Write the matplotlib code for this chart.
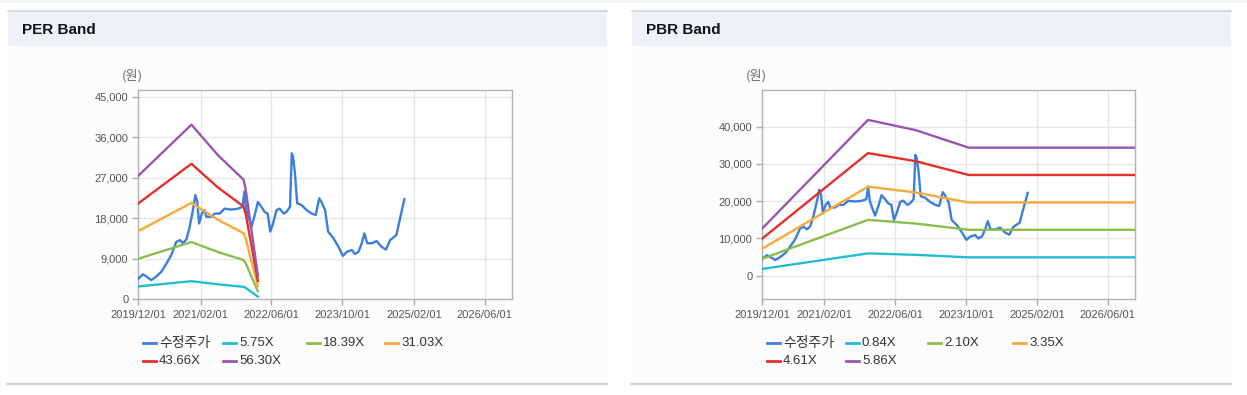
import matplotlib
matplotlib.use("Agg")
import matplotlib.pyplot as plt
import matplotlib.dates as mdates
from matplotlib.patches import Rectangle
from matplotlib.lines import Line2D
from matplotlib.ticker import FuncFormatter
import pandas as pd

# canvas size in pixels (dpi 100)
W, H = 1247, 395

# adjusted close (수정주가)
price_dates = [
    "2019-12-01", "2020-01-04", "2020-01-28", "2020-03-01", "2020-04-04", "2020-05-10",
    "2020-06-13", "2020-07-16", "2020-08-19", "2020-09-13", "2020-10-04", "2020-10-28",
    "2020-11-19", "2020-12-13", "2020-12-28", "2021-01-10", "2021-01-22", "2021-02-10",
    "2021-02-28", "2021-03-13", "2021-04-16", "2021-05-10", "2021-06-13", "2021-07-16",
    "2021-09-01", "2021-10-16", "2021-11-16", "2021-11-28", "2021-12-10", "2021-12-25",
    "2022-01-16", "2022-02-10", "2022-03-01", "2022-03-25", "2022-04-16", "2022-05-07",
    "2022-05-25", "2022-06-13", "2022-07-07", "2022-07-28", "2022-08-25", "2022-09-13",
    "2022-10-07", "2022-10-19", "2022-10-28", "2022-11-10", "2022-11-25", "2022-12-25",
    "2023-01-28", "2023-03-04", "2023-04-01", "2023-04-25", "2023-05-10", "2023-06-04",
    "2023-06-25", "2023-08-01", "2023-09-04", "2023-10-04", "2023-11-01", "2023-12-04",
    "2023-12-25", "2024-01-19", "2024-02-10", "2024-02-28", "2024-03-19", "2024-04-19",
    "2024-05-22", "2024-06-25", "2024-07-25", "2024-08-22", "2024-10-04", "2024-11-01",
    "2024-11-28",
]
price = [
    4450, 5500, 5000, 4200, 5000, 6100,
    7900, 9800, 12700, 13100, 12400, 13300,
    16100, 20100, 23100, 21600, 16800, 19000,
    19800, 18300, 18300, 19000, 19000, 20100,
    19900, 20100, 20500, 23900, 20100, 18300,
    16100, 19000, 21600, 20500, 19400, 19000,
    15000, 16800, 19800, 20100, 19000, 19400,
    20500, 32400, 31600, 27900, 21300, 20900,
    19800, 19000, 18700, 22400, 21600, 19800,
    15000, 13500, 11600, 9600, 10500, 10900,
    10000, 10500, 12400, 14600, 12400, 12400,
    12900, 11600, 11000, 13100, 14200, 18300,
    22200,
]

# EPS behind the PER band
eps_dates = ["2019-12-01", "2020-12-01", "2021-06-01", "2021-11-22", "2021-12-07", "2022-03-01"]
eps = [486, 689, 568, 472, 435, 92]
per_multiples = [5.75, 18.39, 31.03, 43.66, 56.30]
per_labels = ["5.75X", "18.39X", "31.03X", "43.66X", "56.30X"]

# BPS behind the PBR band
bps_dates = ["2019-12-01", "2021-11-28", "2022-10-22", "2023-10-20", "2027-01-01"]
bps = [2150, 7130, 6660, 5860, 5860]
pbr_multiples = [0.84, 2.10, 3.35, 4.61, 5.86]
pbr_labels = ["0.84X", "2.10X", "3.35X", "4.61X", "5.86X"]

price_label = "수정주가"
band_colors = ["#22bdd0", "#8dbd4e", "#f6aa3c", "#e2302b", "#9b55b0"]
price_color = "#3b7edb"

date_ticks = ["2019-12-01", "2021-02-01", "2022-06-01", "2023-10-01", "2025-02-01", "2026-06-01"]
x_start, x_end = "2019-12-01", "2026-12-05"

plt.rcParams['font.family'] = ['Liberation Sans', 'Noto Sans CJK KR']

fig = plt.figure(figsize=(W / 100, H / 100), dpi=100)
fig.patch.set_facecolor("white")


def fx(px):
    return px / W


def fy(py):
    return 1 - py / H


def rect(x0, y0, x1, y1, color):
    fig.add_artist(Rectangle((fx(x0), fy(y1)), fx(x1) - fx(x0), fy(y0) - fy(y1),
                             transform=fig.transFigure, facecolor=color,
                             edgecolor="none", zorder=0))


def hline(x0, x1, y, color, lw=1.0):
    fig.add_artist(Line2D([fx(x0), fx(x1)], [fy(y), fy(y)], transform=fig.transFigure,
                          color=color, lw=lw, zorder=1))


# faint shadow strip at the very top
rect(0, 0, W, 3, "#f4f4f4")


def panel(p0, p1, title, ax_x0, ax_x1, band_dates, base, mults, labels,
          yticks, ylim, leg_x):
    # panel frame
    rect(p0, 10, p1, 46, "#eef2f7")
    rect(p0, 46, p1, 384, "#fcfcfc")
    hline(p0, p1, 10.5, "#d3d6db", 1.2)
    hline(p0, p1, 384, "#cccccc", 1.5)
    fig.text(fx(p0 + 14), fy(29.5), title, fontsize=11, fontweight="bold",
             color="#111111", va="center", ha="left")

    ax = fig.add_axes([fx(ax_x0), fy(299), fx(ax_x1) - fx(ax_x0), fy(90) - fy(299)])
    ax.set_facecolor("white")

    pd_dates = pd.to_datetime(price_dates)
    ax.plot(pd_dates, price, color=price_color, lw=1.7, zorder=3)
    bd = pd.to_datetime(band_dates)
    for m, c in zip(mults, band_colors):
        ax.plot(bd, [b * m for b in base], color=c, lw=1.7, zorder=4)

    ax.set_xlim(pd.Timestamp(x_start), pd.Timestamp(x_end))
    ax.set_ylim(*ylim)
    ax.set_xticks(pd.to_datetime(date_ticks))
    ax.xaxis.set_major_formatter(mdates.DateFormatter("%Y/%m/%d"))
    ax.set_yticks(yticks)
    ax.yaxis.set_major_formatter(FuncFormatter(lambda v, p: f"{v:,.0f}"))
    ax.tick_params(axis="both", labelsize=8, labelcolor="#555555", color="#aaaaaa",
                   length=4, width=1, pad=3)
    ax.tick_params(axis="x", pad=4)
    ax.grid(True, color="#e6e6e6", lw=1, zorder=0)
    ax.set_axisbelow(True)
    for s in ax.spines.values():
        s.set_color("#b3b3b3")
        s.set_linewidth(1)

    fig.text(fx(ax_x0 - 6), fy(76), "(원)", fontsize=9.5, color="#666666",
             ha="center", va="center", family=['Noto Sans CJK KR'])

    # legend, two rows
    names = [price_label] + labels
    colors = [price_color] + band_colors
    rows = [343, 361]
    for i, (n, c) in enumerate(zip(names, colors)):
        x = leg_x[i % 4]
        y = rows[i // 4]
        fig.add_artist(Line2D([fx(x), fx(x + 13)], [fy(y), fy(y)], transform=fig.transFigure,
                              color=c, lw=2.0, zorder=2))
        fig.text(fx(x + 16), fy(y), n, fontsize=10 if n == price_label else 9.5,
                 color="#333333", ha="left", va="center")
    return ax


panel(8, 607, "PER Band", 138, 512, eps_dates, eps, per_multiples, per_labels,
      [0, 9000, 18000, 27000, 36000, 45000], (0, 46500), [143, 223, 307, 385])
panel(632, 1231, "PBR Band", 762, 1135, bps_dates, bps, pbr_multiples, pbr_labels,
      [0, 10000, 20000, 30000, 40000], (-6250, 49800), [767, 846, 928, 1013])

fig.savefig("out.png", dpi=100, facecolor="white")
